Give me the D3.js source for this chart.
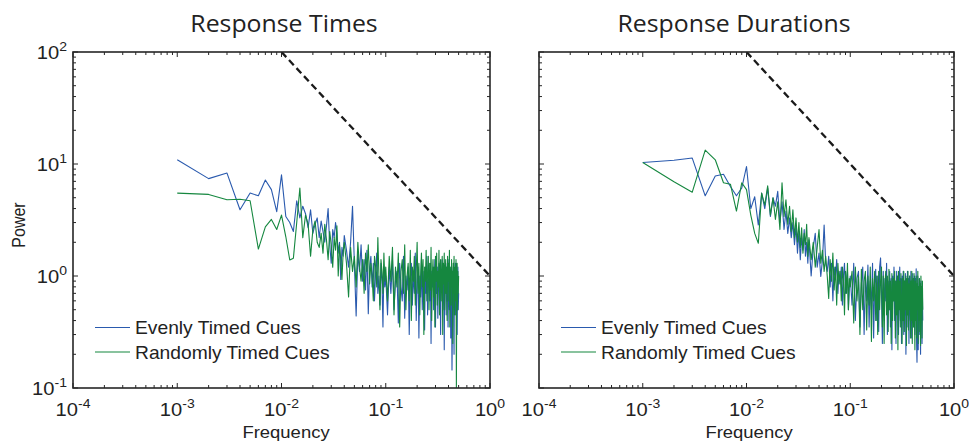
<!DOCTYPE html>
<html>
<head>
<meta charset="utf-8">
<script src="https://cdn.jsdelivr.net/npm/d3@7"></script>
<style>
  body { margin: 0; background: #fff; }
  text { fill: #222; }
</style>
</head>
<body>
<svg id="chart" width="969" height="443"></svg>
<script>
// Spectral bins (millihertz) shared by every series
const freqMilliHz = [
  1,2,3,4,5,6,7,8,9,10,11,12,13,14,15,16,17,18,19,20,
  21,22,23,24,25,26,27,28,29,30,31,32,33,34,35,36,37,38,39,40,
  42,44,46,48,50,52,54,56,58,60,62,64,66,68,70,72,74,76,78,80,
  82,84,86,88,90,92,94,96,98,100,
  104,108,112,116,120,124,128,132,136,140,
  144,148,152,156,160,164,168,172,176,180,
  184,188,192,196,200,204,208,212,216,220,
  224,228,232,236,240,244,248,252,256,260,
  264,268,272,276,280,284,288,292,296,300,
  304,308,312,316,320,324,328,332,336,340,
  344,348,352,356,360,364,368,372,376,380,
  384,388,392,396,400,404,408,412,416,420,
  424,428,432,436,440,444,448,452,456,460,
  464,468,472,476,480,484,488,492,496,500
];

// Response times – evenly timed cues
const respTimesEven = [
  10.9,7.4,8.3,3.9,5.5,5.2,7.2,5.9,3.75,8.0,
  3.4,3.0,2.5,4.7,3.3,4.2,3.6,2.7,3.9,2.4,
  2.9,3.3,2.2,3.1,2.5,2.0,2.8,4.0,1.9,1.3,
  2.6,2.2,3.0,2.4,1.6,2.0,0.93,1.8,1.5,2.3,
  1.7,1.2,2.0,4.2,1.3,0.44,1.6,1.1,1.9,0.9,
  1.4,0.75,1.7,0.46,1.2,1.5,0.8,1.3,0.6,1.1,
  1.6,0.7,1.0,0.55,1.3,0.9,0.35,1.2,0.8,1.0,
  0.45,1.2,0.7,1.4,0.5,0.9,1.1,0.38,1.3,0.8,
  0.6,1.5,0.42,1.0,0.75,1.2,0.3,0.95,1.3,0.55,
  1.1,0.7,1.6,0.4,0.9,1.2,0.28,1.0,0.65,1.4,
  0.5,1.1,0.8,0.33,1.2,0.7,1.5,0.45,0.9,1.0,
  0.6,1.3,0.25,1.1,0.8,1.2,0.5,0.95,1.4,0.35,
  1.0,0.7,1.2,0.42,0.9,1.3,0.6,1.0,0.3,1.1,
  0.8,1.4,0.5,0.9,1.2,0.22,1.0,0.7,1.3,0.45,
  1.1,0.6,1.2,0.35,0.95,1.4,0.5,0.8,1.1,0.28,
  1.0,0.65,0.145,0.4,0.9,1.2,0.55,0.2,1.0,0.75,
  1.3,0.45,1.3,0.9,1.1,0.3,0.8,1.2,0.5,0.7
];

// Response times – randomly timed cues
const respTimesRandom = [
  5.5,5.35,4.8,4.85,4.7,1.74,2.75,3.2,2.6,3.5,
  2.24,1.39,1.44,3.0,6.1,2.2,3.5,2.9,1.5,2.6,
  3.1,2.0,1.8,2.4,1.6,2.9,2.1,1.4,2.5,1.9,
  1.2,2.2,1.7,2.8,1.0,1.9,1.4,0.93,1.6,2.0,
  1.3,0.65,1.8,1.1,1.5,0.8,2.0,1.2,0.9,1.4,
  0.7,1.6,1.1,1.9,0.85,1.3,1.0,0.6,1.5,1.2,
  0.8,2.2,1.0,0.5,1.4,1.1,0.7,1.6,0.9,1.2,
  0.6,1.5,0.9,1.8,0.45,1.2,0.8,1.6,0.35,1.1,
  1.4,0.7,1.9,0.5,1.0,1.3,0.6,1.7,0.4,1.2,
  0.9,1.5,0.55,1.1,2.0,0.7,1.3,0.45,1.0,1.6,
  0.8,1.4,0.3,1.2,0.9,1.7,0.6,1.1,1.5,0.5,
  1.3,0.75,1.8,0.4,1.0,1.4,0.65,1.2,0.35,1.5,
  0.9,1.6,0.55,1.1,0.8,1.7,0.45,1.2,1.4,0.6,
  1.0,1.5,0.3,1.3,0.85,1.6,0.5,1.1,1.4,0.7,
  1.2,0.4,1.5,0.9,1.3,0.6,1.7,0.35,1.0,1.2,
  0.55,1.4,0.8,1.1,0.25,1.3,0.7,1.5,0.45,1.0,
  1.2,0.6,1.4,0.1,0.9,1.3,0.5,1.1,0.7,1.0
];

// Response durations – evenly timed cues
const respDurEven = [
  10.3,10.8,11.3,5.2,7.8,8.1,6.3,5.2,6.1,9.5,
  4.0,5.1,2.85,5.5,4.0,6.1,3.4,5.0,4.2,5.7,
  3.0,4.6,2.6,3.8,2.4,3.3,2.2,3.0,1.9,2.8,
  1.6,2.5,1.4,2.2,1.7,2.6,1.5,2.0,1.3,2.1,
  1.0,1.8,2.4,1.2,1.6,0.99,1.4,2.85,1.3,1.1,
  1.5,0.8,1.3,0.6,1.2,0.95,1.4,0.7,1.1,0.85,
  1.2,0.55,1.0,1.3,0.7,0.9,1.1,0.5,0.8,1.0,
  0.55,1.3,0.4,0.95,1.1,0.35,0.85,1.2,0.3,1.0,
  0.6,1.25,0.35,0.9,0.5,1.3,0.28,0.85,1.15,0.4,
  1.0,0.32,1.2,1.45,0.7,0.25,1.1,0.45,0.95,0.6,
  1.3,0.3,0.9,0.5,1.1,0.35,0.95,0.22,1.0,0.6,
  1.2,0.4,0.9,0.25,1.1,0.5,1.0,0.3,0.8,1.2,
  0.4,0.95,0.25,1.0,0.55,1.1,0.3,0.9,0.45,1.05,
  0.2,0.9,0.5,1.1,0.35,0.95,0.25,1.0,0.6,0.4,
  1.1,0.28,0.9,0.5,1.05,0.4,0.85,0.35,1.0,0.3,
  0.95,0.5,1.16,0.25,0.17,0.45,1.0,0.22,0.8,0.45,
  0.95,0.3,0.85,0.2,0.9,0.4,0.8,0.25,0.7,0.4
];

// Response durations – randomly timed cues
const respDurRandom = [
  10.3,6.95,5.6,13.3,10.9,6.8,6.6,3.8,6.8,5.9,
  3.5,2.4,1.96,5.5,4.3,6.4,3.5,5.0,3.2,4.6,
  2.6,6.8,3.4,4.8,2.9,4.2,2.5,3.9,2.2,3.3,
  2.0,3.0,1.8,2.7,1.6,2.4,1.9,2.9,1.5,2.2,
  1.4,2.0,1.2,1.8,2.6,1.3,1.7,1.1,1.5,1.0,
  0.63,1.4,0.9,1.6,0.75,1.2,0.55,1.3,0.85,1.1,
  0.6,1.2,0.9,0.45,1.1,0.7,1.3,0.5,0.95,0.8,
  1.1,0.38,1.2,0.6,1.0,0.3,1.15,0.5,0.9,1.1,
  0.33,1.0,0.55,1.2,0.26,0.95,0.6,1.1,0.4,1.0,
  0.3,1.1,0.5,0.9,1.2,0.35,1.0,0.25,0.85,1.1,
  0.45,1.0,0.32,1.15,0.5,0.9,0.25,1.05,0.4,0.95,
  0.6,1.1,0.28,0.9,0.45,1.0,0.22,1.1,0.5,0.9,
  0.35,1.05,0.6,0.25,0.95,0.4,1.1,0.32,0.9,0.5,
  1.0,0.24,0.95,0.45,1.1,0.33,0.85,0.5,1.0,0.28,
  0.9,0.4,1.1,0.25,0.8,0.95,0.35,1.05,0.5,0.22,
  0.9,0.4,1.0,0.28,0.85,0.5,1.1,0.25,0.8,0.4,
  0.95,0.32,0.85,0.24,1.0,0.45,0.8,0.28,0.9,0.5
];

// 1/f reference line (frequency, power)
const refFreq = [0.01, 1];
const refPower = [100, 1];

const panelTitles = ["Response Times", "Response Durations"];
const seriesNames = ["Evenly Timed Cues", "Randomly Timed Cues"];
const xTickExponents = [-4, -3, -2, -1, 0];
const yTickExponents = [-1, 0, 1, 2];

const colorEven = "#2a5aae";
const colorRandom = "#15873f";
const axisColor = "#262626";
const sansFont = "'Liberation Sans', Arial, Helvetica, sans-serif";
const titleFont = "'Open Sans', 'Noto Sans', sans-serif";
const STRETCH = 1.12;   // horizontal widening of label glyphs

const svg = d3.select("#chart");
const plotTop = 52, plotBottom = 388;

const panels = [
  { left: 73,  right: 490, even: respTimesEven, random: respTimesRandom,
    title: panelTitles[0], titleX: 284, xLabelX: 286, yLabels: true },
  { left: 539, right: 954, even: respDurEven, random: respDurRandom,
    title: panelTitles[1], titleX: 734, xLabelX: 749, yLabels: false }
];

function stretchedText(parent, x, y, anchor, size, family, stretch) {
  return parent.append("g")
      .attr("transform", `translate(${x},${y}) scale(${stretch},1)`)
    .append("text")
      .attr("text-anchor", anchor)
      .attr("font-family", family)
      .attr("font-size", size);
}

function powerLabel(parent, x, y, anchor, exp) {
  const t = stretchedText(parent, x, y, anchor, 18, sansFont, STRETCH);
  t.append("tspan").text("10");
  t.append("tspan").attr("dy", -8).attr("font-size", 12.5).text(String(exp));
}

panels.forEach((p, pi) => {
  const x = d3.scaleLog().domain([1e-4, 1]).range([p.left, p.right]);
  const y = d3.scaleLog().domain([0.1, 100]).range([plotBottom, plotTop]);
  const g = svg.append("g");

  const clipId = "clip" + pi;
  svg.append("clipPath").attr("id", clipId)
    .append("rect")
      .attr("x", p.left).attr("y", plotTop)
      .attr("width", p.right - p.left).attr("height", plotBottom - plotTop);

  const plot = g.append("g").attr("clip-path", `url(#${clipId})`);
  const line = d3.line()
    .x((d, i) => x(freqMilliHz[i] / 1000))
    .y(d => y(d));

  plot.append("path").datum(p.even)
    .attr("d", line).attr("fill", "none")
    .attr("stroke", colorEven).attr("stroke-width", 1.1)
    .attr("stroke-linejoin", "round");
  plot.append("path").datum(p.random)
    .attr("d", line).attr("fill", "none")
    .attr("stroke", colorRandom).attr("stroke-width", 1.1)
    .attr("stroke-linejoin", "round");

  const refLine = d3.line()
    .x((d, i) => x(refFreq[i]))
    .y(d => y(d));
  plot.append("path").datum(refPower)
    .attr("d", refLine).attr("fill", "none")
    .attr("stroke", "#1a1a1a").attr("stroke-width", 2.3)
    .attr("stroke-dasharray", "7,4");

  // Minor and major log ticks, pointing inward on all four sides
  const xTicks = [], yTicks = [];
  for (let e = -4; e < 0; e++)
    for (let m = 1; m <= 9; m++) xTicks.push({ v: m * Math.pow(10, e), major: m === 1 });
  xTicks.push({ v: 1, major: true });
  for (let e = -1; e < 2; e++)
    for (let m = 1; m <= 9; m++) yTicks.push({ v: m * Math.pow(10, e), major: m === 1 });
  yTicks.push({ v: 100, major: true });

  const tickG = g.append("g").attr("stroke", axisColor).attr("stroke-width", 1);
  xTicks.forEach(t => {
    const xx = x(t.v), len = t.major ? 5 : 3;
    tickG.append("line").attr("x1", xx).attr("x2", xx).attr("y1", plotBottom).attr("y2", plotBottom - len);
    tickG.append("line").attr("x1", xx).attr("x2", xx).attr("y1", plotTop).attr("y2", plotTop + len);
  });
  yTicks.forEach(t => {
    const yy = y(t.v), len = t.major ? 5 : 3;
    tickG.append("line").attr("x1", p.left).attr("x2", p.left + len).attr("y1", yy).attr("y2", yy);
    tickG.append("line").attr("x1", p.right).attr("x2", p.right - len).attr("y1", yy).attr("y2", yy);
  });

  g.append("rect")
    .attr("x", p.left).attr("y", plotTop)
    .attr("width", p.right - p.left).attr("height", plotBottom - plotTop)
    .attr("fill", "none").attr("stroke", axisColor).attr("stroke-width", 1.6);

  // Tick labels
  xTickExponents.forEach(e => powerLabel(g, x(Math.pow(10, e)), 416, "middle", e));
  if (p.yLabels) {
    yTickExponents.forEach(e => powerLabel(g, p.left - 6, y(Math.pow(10, e)) + 6.5, "end", e));
  }

  // Title and axis labels
  stretchedText(g, p.titleX, 32, "middle", 23, titleFont, 1.08).text(p.title);
  stretchedText(g, p.xLabelX, 438, "middle", 16.5, sansFont, STRETCH).text("Frequency");
  if (p.yLabels) {
    g.append("g").attr("transform", `translate(25,${(plotTop + plotBottom) / 2 + 5}) rotate(-90) scale(1,${STRETCH})`)
      .append("text").attr("text-anchor", "middle")
      .attr("font-family", sansFont).attr("font-size", 16).text("Power");
  }

  // Legend
  const legendRows = [
    { name: seriesNames[0], color: colorEven, y: 327.5 },
    { name: seriesNames[1], color: colorRandom, y: 352 }
  ];
  legendRows.forEach(r => {
    g.append("line")
      .attr("x1", p.left + 22).attr("x2", p.left + 57)
      .attr("y1", r.y).attr("y2", r.y)
      .attr("stroke", r.color).attr("stroke-width", 1.1);
    stretchedText(g, p.left + 62, r.y + 6.5, "start", 17.5, sansFont, 1.1).text(r.name);
  });
});
</script>
</body>
</html>
